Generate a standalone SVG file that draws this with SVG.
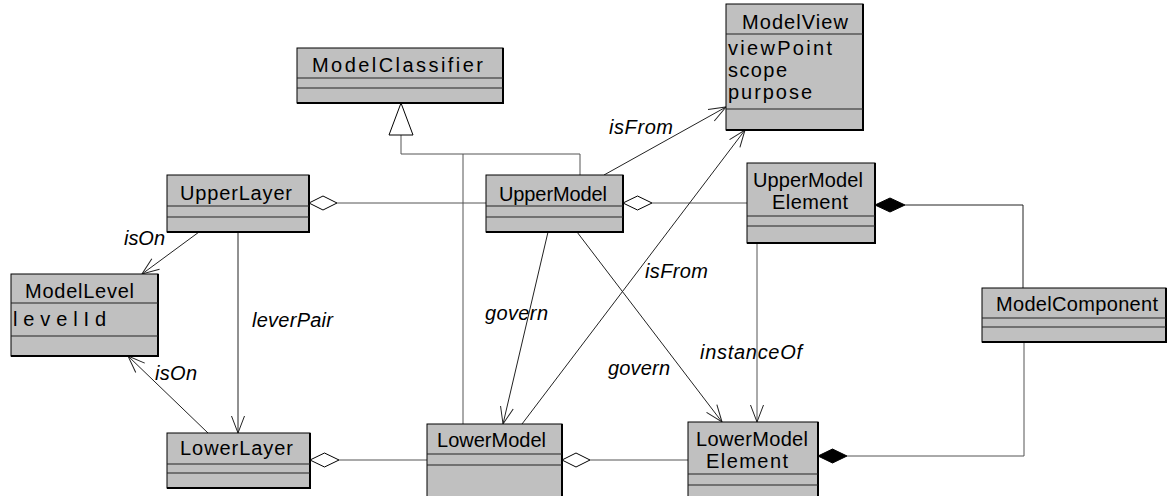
<svg xmlns="http://www.w3.org/2000/svg" width="1168" height="496" viewBox="0 0 1168 496">
<style>
.box{fill:#c0c0c0;stroke:#000;stroke-width:1}
.edge{fill:none;stroke:#000;stroke-width:2}
.sep{stroke:#222;stroke-width:1}
.nm{font-family:"Liberation Sans",Arial,sans-serif;font-size:20px;fill:#000}
.lb{font-family:"Liberation Sans",Arial,sans-serif;font-size:20px;font-style:italic;fill:#000}
.ln{fill:none;stroke:#555;stroke-width:1}
.ar{fill:none;stroke:#222;stroke-width:1}
.agg{fill:#fff;stroke:#000;stroke-width:1}
.cmp{fill:#000;stroke:#000;stroke-width:1}
</style>
<defs>
<marker id="open" markerUnits="userSpaceOnUse" markerWidth="20" markerHeight="16" viewBox="-18 -8 20 16" refX="0" refY="0" orient="auto" overflow="visible">
<path d="M-17,-6.5 L0,0 L-17,6.5" fill="none" stroke="#222" stroke-width="1"/>
</marker>
</defs>

<g id="connectors">
<!-- generalization -->
<polyline class="ln" points="401,135 401,154 580,154 580,175"/>
<line class="ln" x1="463" y1="154" x2="463" y2="424"/>
<polygon points="401,103 389,135 413,135" fill="#fff" stroke="#000" stroke-width="1"/>
<!-- aggregations -->
<line class="ln" x1="337" y1="203" x2="486" y2="203"/>
<polygon class="agg" points="309,203 323,196 337,203 323,210"/>
<line class="ln" x1="652" y1="203" x2="747" y2="203"/>
<polygon class="agg" points="623,203 637.5,196 652,203 637.5,210"/>
<line class="ln" x1="339" y1="460" x2="427" y2="460"/>
<polygon class="agg" points="310,460 324.5,453 339,460 324.5,467"/>
<line class="ln" x1="590" y1="460" x2="688" y2="460"/>
<polygon class="agg" points="562,460 576,453 590,460 576,467"/>
<!-- compositions -->
<polyline class="ar" points="905,205 1023,205 1023,288"/>
<polygon class="cmp" points="875,205 890,198 905,205 890,212"/>
<polyline class="ln" points="1024,342 1024,456 847,456"/>
<polygon class="cmp" points="818,456 832.5,449 847,456 832.5,463"/>
<!-- directed associations -->
<line class="ar" x1="199" y1="232" x2="142" y2="274" marker-end="url(#open)"/>
<line class="ar" x1="238" y1="232" x2="238" y2="433" marker-end="url(#open)"/>
<line class="ar" x1="208" y1="433" x2="128" y2="356" marker-end="url(#open)"/>
<line class="ar" x1="604" y1="175" x2="726" y2="107" marker-end="url(#open)"/>
<line class="ar" x1="522" y1="424" x2="745" y2="130" marker-end="url(#open)"/>
<line class="ar" x1="548" y1="232" x2="503" y2="424" marker-end="url(#open)"/>
<line class="ar" x1="577" y1="232" x2="722" y2="422" marker-end="url(#open)"/>
<line class="ln" x1="757" y1="243" x2="757" y2="422" marker-end="url(#open)"/>
<!-- labels -->
<text class="lb" x="124" y="245" textLength="41">isOn</text>
<text class="lb" x="252" y="327" textLength="81">leverPair</text>
<text class="lb" x="155" y="380" textLength="42">isOn</text>
<text class="lb" x="609" y="134" textLength="64">isFrom</text>
<text class="lb" x="645" y="278" textLength="63">isFrom</text>
<text class="lb" x="485" y="320" textLength="63">govern</text>
<text class="lb" x="608" y="375" textLength="62">govern</text>
<text class="lb" x="700" y="359" textLength="102">instanceOf</text>
</g>

<g id="ModelClassifier">
<rect class="box" x="297" y="48" width="206" height="55"/>
<polyline class="edge" points="503,48 503,103 297,103"/>
<line class="sep" x1="297" y1="78" x2="503" y2="78"/>
<line class="sep" x1="297" y1="88" x2="503" y2="88"/>
<text class="nm" x="312" y="72" textLength="171">ModelClassifier</text>
</g>

<g id="ModelView">
<rect class="box" x="726" y="4" width="137" height="126"/>
<polyline class="edge" points="863,4 863,130 726,130"/>
<line class="sep" x1="726" y1="34" x2="863" y2="34"/>
<line class="sep" x1="726" y1="109" x2="863" y2="109"/>
<text class="nm" x="742" y="29" textLength="106">ModelView</text>
<text class="nm" x="728" y="55" textLength="104">viewPoint</text>
<text class="nm" x="728" y="77" textLength="59">scope</text>
<text class="nm" x="728" y="99" textLength="84">purpose</text>
</g>

<g id="UpperLayer">
<rect class="box" x="167" y="175" width="142" height="57"/>
<polyline class="edge" points="309,175 309,232 167,232"/>
<line class="sep" x1="167" y1="206" x2="309" y2="206"/>
<line class="sep" x1="167" y1="217" x2="309" y2="217"/>
<text class="nm" x="180" y="200" textLength="112">UpperLayer</text>
</g>

<g id="UpperModel">
<rect class="box" x="486" y="175" width="137" height="57"/>
<polyline class="edge" points="623,175 623,232 486,232"/>
<line class="sep" x1="486" y1="206" x2="623" y2="206"/>
<line class="sep" x1="486" y1="217" x2="623" y2="217"/>
<text class="nm" x="499" y="201" textLength="108">UpperModel</text>
</g>

<g id="UpperModelElement">
<rect class="box" x="747" y="163" width="128" height="80"/>
<polyline class="edge" points="875,163 875,243 747,243"/>
<line class="sep" x1="747" y1="216" x2="875" y2="216"/>
<line class="sep" x1="747" y1="226" x2="875" y2="226"/>
<text class="nm" x="753" y="187" textLength="110">UpperModel</text>
<text class="nm" x="772" y="209" textLength="76">Element</text>
</g>

<g id="ModelLevel">
<rect class="box" x="11" y="274" width="147" height="82"/>
<polyline class="edge" points="158,274 158,356 11,356"/>
<line class="sep" x1="11" y1="303" x2="158" y2="303"/>
<line class="sep" x1="11" y1="336" x2="158" y2="336"/>
<text class="nm" x="25" y="298" textLength="109">ModelLevel</text>
<text class="nm" x="13" y="326" textLength="93">levelId</text>
</g>

<g id="ModelComponent">
<rect class="box" x="982" y="288" width="184" height="54"/>
<polyline class="edge" points="1166,288 1166,342 982,342"/>
<line class="sep" x1="982" y1="318" x2="1166" y2="318"/>
<line class="sep" x1="982" y1="327" x2="1166" y2="327"/>
<text class="nm" x="996" y="311" textLength="162">ModelComponent</text>
</g>

<g id="LowerLayer">
<rect class="box" x="167" y="433" width="143" height="55"/>
<polyline class="edge" points="310,433 310,488 167,488"/>
<line class="sep" x1="167" y1="464" x2="310" y2="464"/>
<line class="sep" x1="167" y1="473" x2="310" y2="473"/>
<text class="nm" x="180" y="455" textLength="113">LowerLayer</text>
</g>

<g id="LowerModel">
<rect class="box" x="427" y="424" width="135" height="80"/>
<polyline class="edge" points="562,424 562,504"/>
<line class="sep" x1="427" y1="454" x2="562" y2="454"/>
<line class="sep" x1="427" y1="465" x2="562" y2="465"/>
<text class="nm" x="437" y="447" textLength="109">LowerModel</text>
</g>

<g id="LowerModelElement">
<rect class="box" x="688" y="422" width="130" height="82"/>
<polyline class="edge" points="818,422 818,504"/>
<line class="sep" x1="688" y1="474" x2="818" y2="474"/>
<line class="sep" x1="688" y1="485" x2="818" y2="485"/>
<text class="nm" x="696" y="446" textLength="112">LowerModel</text>
<text class="nm" x="706" y="468" textLength="82">Element</text>
</g>
</svg>
